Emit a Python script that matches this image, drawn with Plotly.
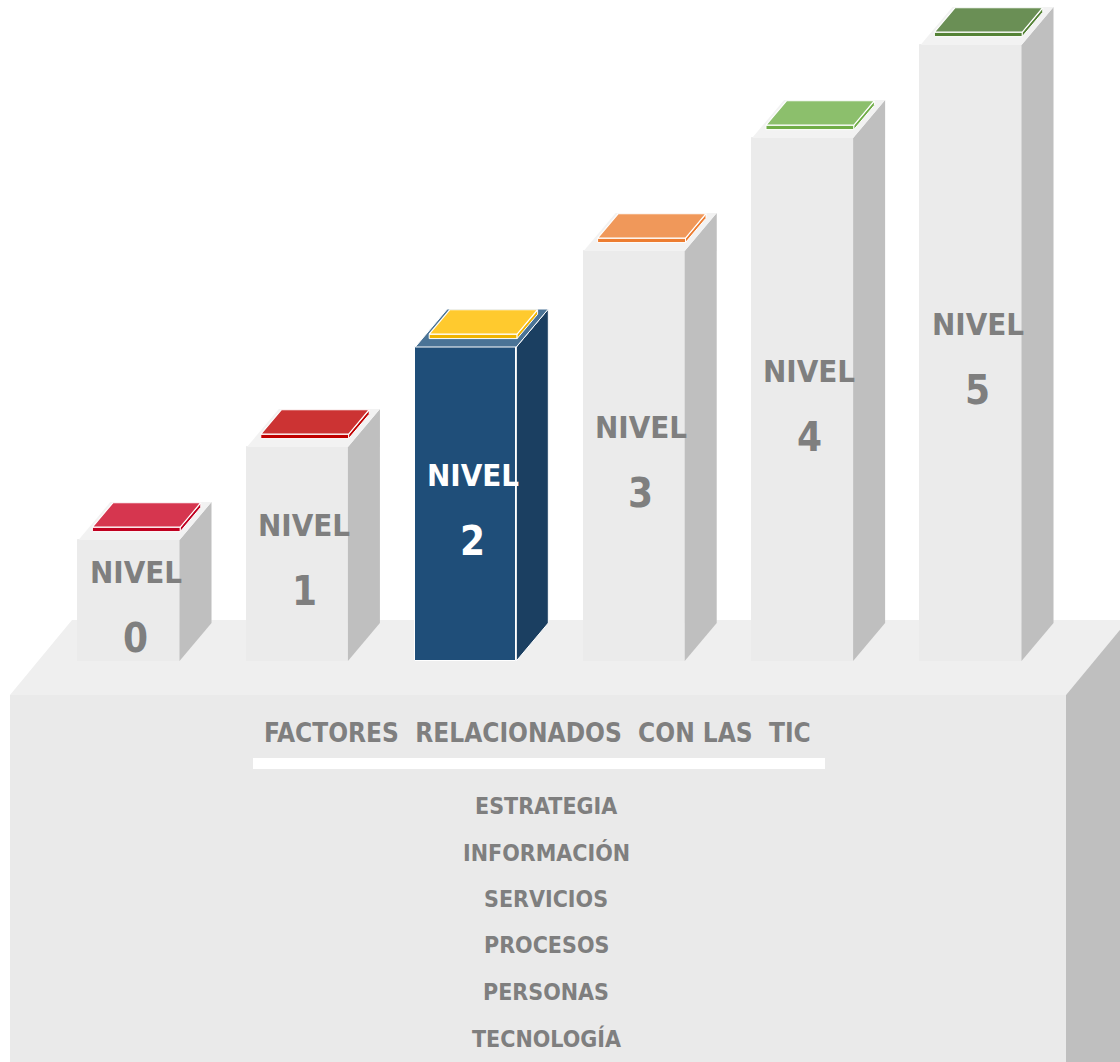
import plotly.graph_objects as go

# ---------------- data ----------------
levels = ["NIVEL 0", "NIVEL 1", "NIVEL 2", "NIVEL 3", "NIVEL 4", "NIVEL 5"]
level_digits = ["0", "1", "2", "3", "4", "5"]
heights = [1.21, 2.14, 3.14, 4.10, 5.23, 6.16]
cap_top_colors = ["#D6364F", "#CC3333", "#FFCA2E", "#F0985A", "#8CBF6C", "#6A8F55"]
cap_edge_colors = ["#C00020", "#C00000", "#F0B400", "#ED7D31", "#70AD47", "#548235"]
highlight = [False, False, True, False, False, False]
title_text = "FACTORES  RELACIONADOS  CON LAS  TIC"
factors = ["ESTRATEGIA", "INFORMACIÓN", "SERVICIOS", "PROCESOS", "PERSONAS", "TECNOLOGÍA"]

# ---------------- geometry / style ----------------
W, H = 1120, 1062
X0_PX, X_STEP_PX = 129.0, 168.4      # pixel of category 0, pixels per category
BASE_PX, Y_UNIT_PX = 661.0, 100.0    # pixel of value 0, pixels per value unit
BAR_W = 0.6
DX, DY = 32 / X_STEP_PX, 38 / Y_UNIT_PX

def px_x(p):
    return (p - X0_PX) / X_STEP_PX

def px_y(p):
    return (BASE_PX - p) / Y_UNIT_PX

FONT = "DejaVu Sans Condensed, Liberation Sans Narrow, Arial Narrow, sans-serif"
GRAY_TXT = "#7F7F7F"

fig = go.Figure()

# platform (decoration, below traces)
plat_top = [(10, 695), (72, 620), (1128, 620), (1066, 695)]
plat_front = [(10, 695), (1066, 695), (1066, 1070), (10, 1070)]
plat_side = [(1066, 695), (1128, 620), (1128, 1070), (1066, 1070)]

def path(pts):
    return "M " + " L ".join(f"{px_x(a)},{px_y(b)}" for a, b in pts) + " Z"

for pts, col in [(plat_top, "#EFEFEF"), (plat_front, "#EAEAEA"), (plat_side, "#BFBFBF")]:
    fig.add_shape(type="path", path=path(pts), fillcolor=col, line=dict(width=0), layer="below")

# underline under title
fig.add_shape(type="rect", x0=px_x(253), x1=px_x(825), y0=px_y(758), y1=px_y(769),
              fillcolor="white", line=dict(width=0), layer="below")

xs = list(range(len(levels)))
front_colors = ["#1F4E79" if h else "#EBEBEB" for h in highlight]
side_colors = ["#1B3F61" if h else "#BFBFBF" for h in highlight]
top_colors = ["#4A7396" if h else "#F2F2F2" for h in highlight]

# front faces
fig.add_trace(go.Bar(x=xs, y=heights, width=BAR_W, marker=dict(color=front_colors,
              line=dict(color=["white" if h else "#EBEBEB" for h in highlight], width=1)),
              hoverinfo="skip", showlegend=False))

def poly(pts, fill, line_color=None, lw=0):
    xsp = [p[0] for p in pts] + [pts[0][0]]
    ysp = [p[1] for p in pts] + [pts[0][1]]
    fig.add_trace(go.Scatter(x=xsp, y=ysp, mode="lines", fill="toself", fillcolor=fill,
                             line=dict(color=line_color or fill, width=lw if line_color else 0),
                             hoverinfo="skip", showlegend=False))

for i, h in enumerate(heights):
    xl, xr = i - BAR_W / 2, i + BAR_W / 2
    # side face
    poly([(xr, 0), (xr + DX, DY), (xr + DX, h + DY), (xr, h)], side_colors[i],
         "white" if highlight[i] else None, 1)
    # top face
    poly([(xl, h), (xr, h), (xr + DX, h + DY), (xl + DX, h + DY)], top_colors[i],
         "white" if highlight[i] else None, 1)
    # cap (slab on top)
    t0 = 0.34
    u0, u1 = 0.03, 0.9
    cxl = xl + u0 * BAR_W
    cxr = xl + u1 * BAR_W
    fl = (cxl + t0 * DX, h + t0 * DY)
    fr = (cxr + t0 * DX, h + t0 * DY)
    br = (cxr + DX * 0.98, h + DY * 0.98)
    bl = (cxl + DX * 0.98, h + DY * 0.98)
    th = 0.045
    poly([(fl[0], fl[1] - th), (fr[0], fr[1] - th), fr, fl], cap_edge_colors[i], "white", 1)
    poly([(fr[0], fr[1] - th), (br[0], br[1] - th), br, fr], cap_edge_colors[i], "white", 1)
    poly([fl, fr, br, bl], cap_top_colors[i], "white", 1.2)

# column labels
for i, h in enumerate(heights):
    c = "white" if highlight[i] else GRAY_TXT
    yc = h / 2 - 0.04
    fig.add_annotation(x=i + 0.04, y=yc + 0.33, text="<b>NIVEL</b>", showarrow=False,
                       font=dict(family=FONT, size=31, color=c), xanchor="center", yanchor="middle")
    fig.add_annotation(x=i + 0.04, y=yc - 0.33, text="<b>" + level_digits[i] + "</b>", showarrow=False,
                       font=dict(family=FONT, size=40, color=c), xanchor="center", yanchor="middle")

# platform texts
fig.add_annotation(x=px_x(537), y=px_y(733), text="<b>" + title_text + "</b>", showarrow=False,
                   font=dict(family=FONT, size=26, color=GRAY_TXT), xanchor="center", yanchor="middle")
for k, f in enumerate(factors):
    fig.add_annotation(x=px_x(546), y=px_y(806 + 46.4 * k), text="<b>" + f + "</b>", showarrow=False,
                       font=dict(family=FONT, size=23, color=GRAY_TXT), xanchor="center", yanchor="middle")

fig.update_layout(
    width=W, height=H, margin=dict(l=0, r=0, t=0, b=0),
    paper_bgcolor="white", plot_bgcolor="white",
    xaxis=dict(range=[px_x(0), px_x(W)], visible=False, fixedrange=True),
    yaxis=dict(range=[px_y(H), px_y(0)], visible=False, fixedrange=True),
    bargap=0, showlegend=False,
)
fig.write_html("out.html")
